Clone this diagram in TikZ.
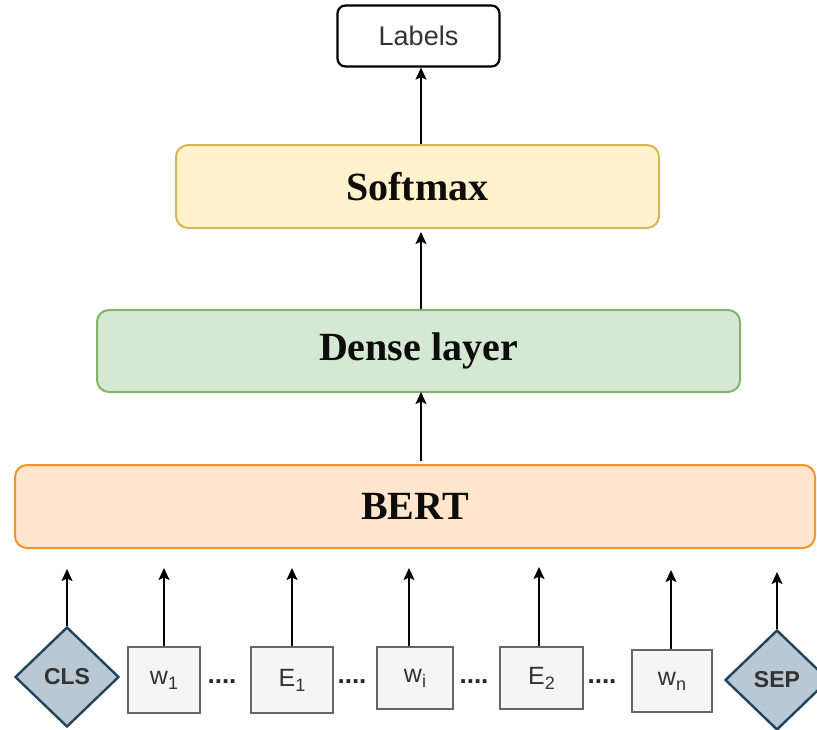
\documentclass[tikz,border=0pt]{standalone}
\usepackage{fontspec}
\setmainfont{Liberation Serif}
\setsansfont{Liberation Sans}
\usetikzlibrary{shapes.geometric,arrows.meta}

\definecolor{softfill}{HTML}{FFF2CC}
\definecolor{softline}{HTML}{D6B656}
\definecolor{densefill}{HTML}{D5E8D4}
\definecolor{denseline}{HTML}{82B366}
\definecolor{bertfill}{HTML}{FFE6CC}
\definecolor{bertline}{HTML}{F0952E}
\definecolor{tokfill}{HTML}{F5F5F5}
\definecolor{tokline}{HTML}{666666}
\definecolor{tokfont}{HTML}{333333}
\definecolor{specfill}{HTML}{BAC8D3}
\definecolor{specline}{HTML}{23445D}

% lowered index for token names
\newcommand\tokidx[1]{\raisebox{-5pt}{\fontsize{18}{20}\selectfont #1}}

\tikzset{
  layer/.style={draw, rounded corners=12pt, line width=2pt, inner sep=0pt,
    font=\fontsize{40}{44}\selectfont\bfseries, text=black!95},
  token/.style={draw=tokline, fill=tokfill, line width=2.4pt, inner sep=0pt,
    font=\sffamily\fontsize{25}{28}\selectfont, text=tokfont},
  special/.style={diamond, draw=specline, fill=specfill, line width=2.4pt,
    inner sep=0pt, minimum width=104pt, minimum height=100pt,
    font=\sffamily\bfseries\fontsize{23}{26}\selectfont, text=tokfont},
  gap/.style={inner sep=0pt, font=\sffamily\bfseries\fontsize{26}{28}\selectfont, text=black!85},
  flow/.style={draw=black, line width=1.6pt, -{Stealth[length=12pt,width=11pt,inset=2.5pt]}},
}

\begin{document}
\begin{tikzpicture}[x=1pt,y=-1pt]
\useasboundingbox (0,0) rectangle (817,729);

% output label box
\node[draw=black, fill=white, rounded corners=8pt, line width=2.2pt, inner sep=0pt,
      minimum width=162pt, minimum height=61pt,
      font=\sffamily\fontsize{27}{30}\selectfont, text=tokfont]
  (labels) at (418.5,36) {Labels};

% stacked layers
\node[layer, draw=softline, fill=softfill, minimum width=483pt, minimum height=83pt]
  (softmax) at (417.5,186.5) {Softmax};
\node[layer, draw=denseline, fill=densefill, minimum width=643pt, minimum height=82pt]
  (dense) at (418.5,351) {Dense layer};
\node[layer, draw=bertline, fill=bertfill, minimum width=800pt, minimum height=83pt]
  (bert) at (415,506.5) {BERT};

% input tokens
\node[special] (cls) at (67,677) {CLS};
\node[token, minimum width=72pt, minimum height=66pt] (w1) at (164,680) {w\tokidx{1}};
\node[token, minimum width=82pt, minimum height=66pt] (e1) at (292,680) {E\tokidx{1}};
\node[token, minimum width=76pt, minimum height=62pt] (wi) at (415,678) {w\tokidx{i}};
\node[token, minimum width=83pt, minimum height=62pt] (e2) at (541.5,678) {E\tokidx{2}};
\node[token, minimum width=80pt, minimum height=62pt] (wn) at (672,681) {w\tokidx{n}};
\node[special] (sep) at (777,680) {SEP};

% ellipses between tokens
\node[gap] (d1) at (222,682) {....};
\node[gap] (d2) at (352,682) {....};
\node[gap] (d3) at (474,682) {....};
\node[gap] (d4) at (602,682) {....};

% free ends of the token arrows
\coordinate (tcls) at (67,569);
\coordinate (tw1) at (164,568);
\coordinate (te1) at (292,568);
\coordinate (twi) at (409,568);
\coordinate (te2) at (539,567);
\coordinate (twn) at (671,570);
\coordinate (tsep) at (777,572);

\draw[flow] (cls.north) -- (tcls);
\draw[flow] (w1.north -| tw1) -- (tw1);
\draw[flow] (e1.north -| te1) -- (te1);
\draw[flow] (wi.north -| twi) -- (twi);
\draw[flow] (e2.north -| te2) -- (te2);
\draw[flow] (wn.north -| twn) -- (twn);
\draw[flow] (sep.north) -- (tsep);

% arrows between the layers
\coordinate (c1) at (421,461);
\coordinate (c2) at (421,392);
\coordinate (c3) at (421,232);
\draw[flow] (c1) -- (c2);
\draw[flow] (dense.north -| c3) -- (c3);
\draw[flow] (softmax.north -| c3) -- (labels.south -| c3);
\end{tikzpicture}
\end{document}
